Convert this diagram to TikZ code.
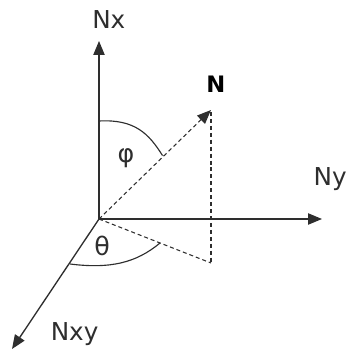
\documentclass[tikz,border=0pt]{standalone}
\usepackage{fontspec}
\setmainfont{DejaVu Sans}
\usetikzlibrary{arrows.meta}
\definecolor{ink}{HTML}{2E2E2E}
\tikzset{
  axis/.style={draw=ink, line width=1pt, -{Triangle[length=10.5pt,width=8.5pt]}},
  dsh/.style={draw=ink, line width=0.8pt, dash pattern=on 3pt off 2.2pt},
  arcline/.style={draw=ink, line width=0.85pt},
  lbl/.style={inner sep=0pt, text=ink, font=\fontsize{18.5}{22}\selectfont},
  glbl/.style={inner sep=0pt, text=ink, font=\fontsize{19}{22}\selectfont},
  blbl/.style={inner sep=0pt, text=black, font=\fontsize{17}{20}\selectfont\bfseries}
}
\begin{document}
\begin{tikzpicture}[x=0.75pt,y=-0.75pt]
\useasboundingbox (0,0) rectangle (348,353);
\coordinate (O) at (99,219);
\coordinate (X) at (99,41);
\coordinate (Y) at (322,219);
\coordinate (XY) at (12,349);
\coordinate (Ntip) at (211,110);
\coordinate (Ntop) at (211,112);
\coordinate (P) at (211,263);
\coordinate (phiA) at (99,121);
\coordinate (phiB) at (162.5,155.5);
\coordinate (thA) at (70,264);
\coordinate (thB) at (160,243);
\draw[axis] (O) -- (X);
\draw[axis] (O) -- (Y);
\draw[axis] (O) -- (XY);
\draw[dsh, -{Triangle[length=10.5pt,width=8.5pt]}] (O) -- (Ntip);
\draw[dsh] (Ntop) -- (P);
\draw[dsh] (O) -- (P);
\draw[arcline] (phiA) .. controls (135,119) and (149,134) .. (phiB);
\draw[arcline] (thA) .. controls (110,269) and (136,263) .. (thB);
\node[lbl, anchor=base west] (nx) at (92,28.3) {Nx};
\node[lbl, anchor=base east] (ny) at (347,185) {Ny};
\node[lbl, anchor=base west] (nxy) at (50.5,340) {Nxy};
\node[blbl, anchor=base west] (n) at (206,92) {N};
\node[glbl] (phi) at (126,158) {φ};
\node[glbl] (theta) at (102,246) {θ};
\end{tikzpicture}
\end{document}
